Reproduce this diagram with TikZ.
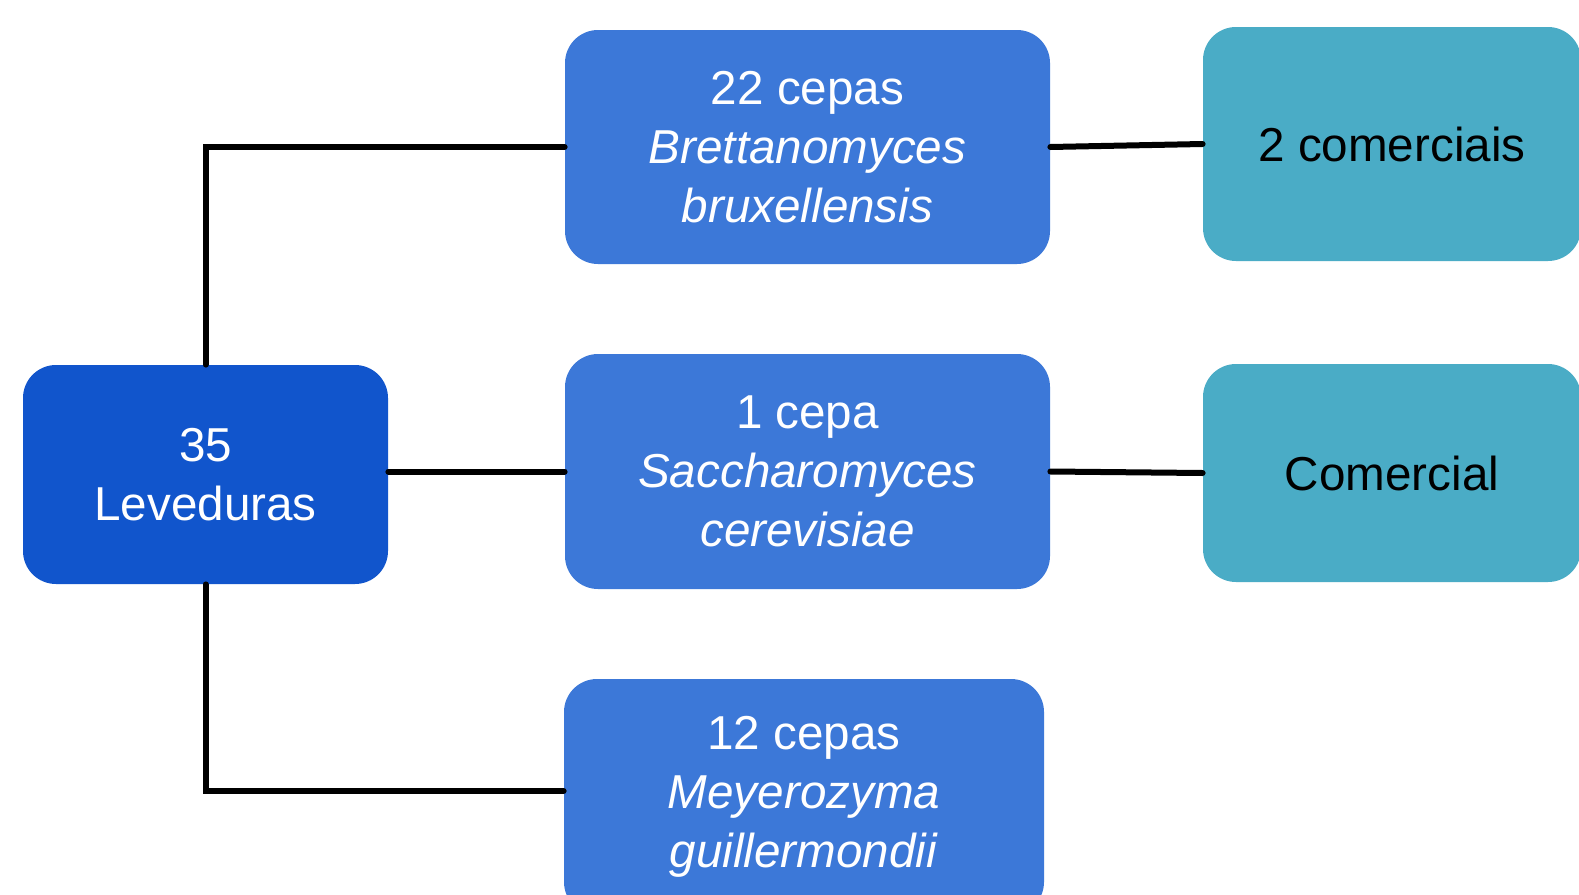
\documentclass[tikz,border=0pt]{standalone}
\usepackage{fontspec}
\setmainfont{Liberation Sans}
\definecolor{rootblue}{HTML}{1155CC}
\definecolor{midblue}{HTML}{3C78D8}
\definecolor{teal}{HTML}{4AACC6}
\begin{document}
\begin{tikzpicture}[x=0.5pt,y=-0.5pt,
  box/.style={rectangle,rounded corners=16.5pt,inner sep=0pt,align=center,
    font=\fontsize{23.8pt}{29.5pt}\selectfont},
  rootbox/.style={box,fill=rootblue,text=white},
  midbox/.style={box,fill=midblue,text=white},
  endbox/.style={box,fill=teal,text=black},
  link/.style={line width=3pt,black,line cap=round}]
\useasboundingbox (0,0) rectangle (1579,894);
\clip (0,0) rectangle (1579,894);
\fill[white] (0,0) rectangle (1579,894);
\node[rootbox,minimum width=182.5pt,minimum height=109.5pt] (root) at (205.5,474.5) {35\\Leveduras};
\node[midbox,minimum width=242.5pt,minimum height=117pt] (b1) at (807.5,147) {22 cepas\\\textit{Brettanomyces}\\\textit{bruxellensis}};
\node[midbox,minimum width=242.5pt,minimum height=117.5pt] (b2) at (807.5,471.5) {1 cepa\\\textit{Saccharomyces}\\\textit{cerevisiae}};
\node[midbox,minimum width=240pt,minimum height=118pt] (b3) at (804,797) {12 cepas\\\textit{Meyerozyma}\\\textit{guillermondii}};
\node[endbox,minimum width=189pt,minimum height=117pt] (r1) at (1392,144) {2 comerciais};
\node[endbox,minimum width=189pt,minimum height=109pt] (r2) at (1392,473) {Comercial};
\draw[link] (root.north) |- (b1.west);
\draw[link] (b2.west -| root.east) -- (b2.west);
\draw[link] (root.south) |- ([yshift=3pt]b3.west);
\draw[link] (b1.east) -- (r1.west);
\draw[link] (b2.east) -- (r2.west);
\end{tikzpicture}
\end{document}
